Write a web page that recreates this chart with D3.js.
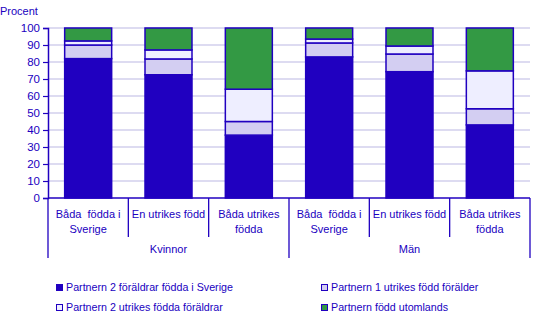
<!DOCTYPE html>
<html><head><meta charset="utf-8">
<script src="https://cdn.jsdelivr.net/npm/d3@7"></script>
<style>body{margin:0;background:#fff}svg{display:block;font-family:"Liberation Sans",Arial,sans-serif}</style>
</head><body><svg id="c" width="548" height="328"></svg>
<script>
const categories = ["Båda  födda i|Sverige","En utrikes född","Båda utrikes|födda","Båda  födda i|Sverige","En utrikes född","Båda utrikes|födda"];
const groups = ["Kvinnor","Män"];
const seriesNames = ["Partnern 2 föräldrar födda i Sverige","Partnern 1 utrikes född förälder","Partnern 2 utrikes födda föräldrar","Partnern född utomlands"];
const s1 = [82, 72.5, 37, 83, 74.3, 43];
const s2 = [8, 9.3, 8, 8.2, 10.4, 9.5];
const s3 = [2.4, 5.3, 19, 2.3, 4.7, 22.3];
const s4 = [7.6, 12.9, 36, 6.5, 10.6, 25.2];
const yTicks = [0,10,20,30,40,50,60,70,80,90,100];
const colors = ["#2000c0","#d3cef2","#eeeeff","#339944"];
const ink = "#2000c0";

const svg = d3.select("#c");
const L=48,R=530,T=28,B=198;
const x = d3.scaleBand().domain(d3.range(categories.length)).range([L,R]).paddingInner(0.415).paddingOuter(0.2075);
const y = d3.scaleLinear().domain([0,100]).range([B,T]);

// grid
svg.append("g").selectAll("line").data(yTicks.filter(d=>d>0)).join("line")
  .attr("x1",L).attr("x2",R).attr("y1",d=>y(d)).attr("y2",d=>y(d))
  .attr("stroke","#d2cfec").attr("stroke-width",1.5);

// y axis
const ya = svg.append("g").attr("transform",`translate(${L},0)`).call(d3.axisLeft(y).tickValues(yTicks).tickSize(5).tickPadding(3));
ya.select(".domain").attr("stroke",ink).attr("stroke-width",1.5);
ya.selectAll(".tick line").attr("stroke",ink).attr("stroke-width",1.2);
ya.selectAll("text").attr("fill",ink).attr("font-size",11.5).attr("font-family","Liberation Sans,Arial,sans-serif");

svg.append("text").attr("x",0).attr("y",15).attr("fill",ink).attr("font-size",11).text("Procent");

// stacks
const data = categories.map((c,i)=>({i, a:s1[i], b:s2[i], c:s3[i], d:s4[i]}));
const stack = d3.stack().keys(["a","b","c","d"])(data);
svg.append("g").selectAll("g").data(stack).join("g").attr("fill",(d,i)=>colors[i])
  .selectAll("rect").data(d=>d).join("rect")
  .attr("x",d=>x(d.data.i)).attr("width",x.bandwidth())
  .attr("y",d=>y(d[1])).attr("height",d=>y(d[0])-y(d[1]))
  .attr("stroke",ink).attr("stroke-width",1.5);

// x axis
svg.append("line").attr("x1",L).attr("x2",R).attr("y1",B).attr("y2",B).attr("stroke",ink).attr("stroke-width",1.5);
const step = x.step();
d3.range(categories.length+1).forEach(k=>{
  const xx = L + k*step;
  const outer = (k%3===0);
  svg.append("line").attr("x1",xx).attr("x2",xx).attr("y1",B).attr("y2",outer?258:237).attr("stroke",ink).attr("stroke-width",1.3);
});
categories.forEach((c,i)=>{
  const lines = c.split("|");
  const t = svg.append("text").attr("text-anchor","middle").attr("fill",ink).attr("font-size",11)
    .attr("x",x(i)+x.bandwidth()/2);
  lines.forEach((ln,j)=>t.append("tspan").attr("x",x(i)+x.bandwidth()/2).attr("y",218+j*15).attr("xml:space","preserve").text(ln));
});
groups.forEach((g,gi)=>{
  svg.append("text").attr("text-anchor","middle").attr("fill",ink).attr("font-size",11)
    .attr("x",L+step*(gi*3+1.5)).attr("y",253).text(g);
});

// legend
const lx=[56,321], ly=[291,311];
seriesNames.forEach((n,i)=>{
  const col=i%2===0?0:1, row=i<2?0:1;
  svg.append("rect").attr("x",lx[col]+0.5).attr("y",ly[row]-6.5).attr("width",6).attr("height",6)
    .attr("fill",colors[i]).attr("stroke",ink).attr("stroke-width",1);
  svg.append("text").attr("x",lx[col]+10).attr("y",ly[row]).attr("fill",ink).attr("font-size",10.7).text(n);
});
</script></body></html>
